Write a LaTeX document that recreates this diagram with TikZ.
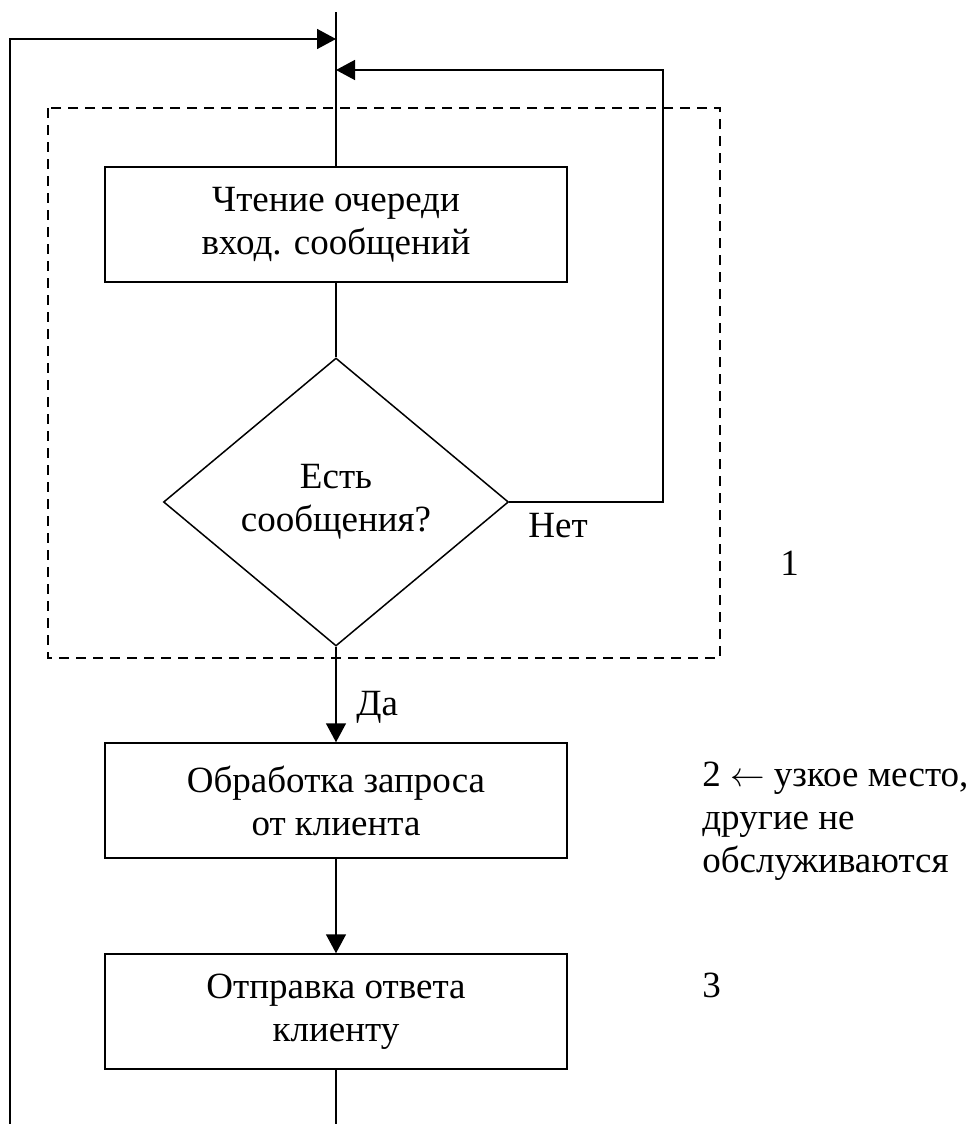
\documentclass[tikz,border=0pt]{standalone}
\usepackage{fontspec}
\setmainfont{Liberation Serif}
\usetikzlibrary{shapes.geometric,arrows.meta}

\begin{document}
\begin{tikzpicture}[x=0.5pt,y=-0.5pt,
  every node/.style={font=\fontsize{18.5}{21.5}\selectfont,inner sep=0pt},
  line/.style={line width=0.75pt},
  arr/.style={line width=0.75pt,-{Triangle[length=9.5pt,width=10pt]}},
  blk/.style={draw,line width=0.75pt,rectangle,minimum width=231pt,minimum height=57.5pt,align=center},
  dec/.style={draw,line width=0.75pt,diamond,minimum width=172.5pt,minimum height=144pt,aspect=1.2,align=center},
  dashbox/.style={line width=0.75pt,dash pattern=on 5pt off 3.5pt}]
\useasboundingbox (0,0) rectangle (973,1124);
\draw[dashbox] (48,108) rectangle (720,658);
\coordinate (top) at (336,12);
\coordinate (in1) at (336,39);
\coordinate (in2) at (336,70);
\coordinate (turn) at (663,70);
\coordinate (lb) at (10,1124);
\coordinate (out) at (336,1124);
\node[blk] (blk1) at (336,224.5){Чтение очереди\\вход. сообщений};
\node[dec] (dec1) at (336,502){Есть\\сообщения?};
\node[blk] (blk2) at (336,800.5){Обработка запроса\\от клиента};
\node[blk] (blk3) at (336,1011.5){Отправка ответа\\клиенту};
\node[anchor=base west] (no) at (528,537){Нет};
\node[anchor=base west] (yes) at (356,715){Да};
\node[anchor=base west] (lbl1) at (780,575){1};
\node[anchor=base west,align=left] (lbl2) at (702,872){2 $\leftarrow$ узкое место,\\другие не\\обслуживаются};
\node[anchor=base west] (lbl3) at (702,997){3};
\draw[line] (top) -- (blk1.north);
\draw[line] (blk1.south) -- (dec1.north);
\draw[arr] (dec1.south) -- (blk2.north);
\draw[arr] (blk2.south) -- (blk3.north);
\draw[line] (blk3.south) -- (out);
\draw[arr] (lb) |- (in1);
\draw[arr] (dec1.east) -| (turn) -- (in2);
\end{tikzpicture}
\end{document}
